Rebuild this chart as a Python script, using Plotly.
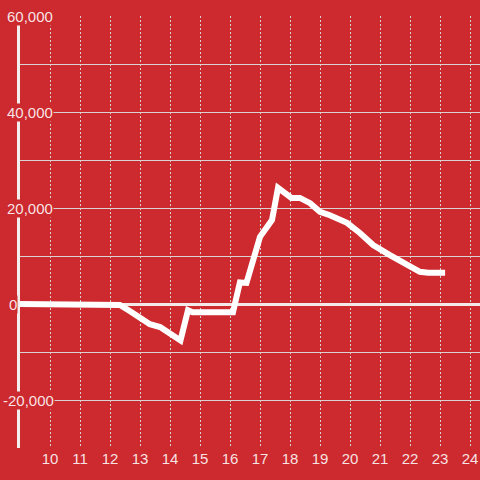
import plotly.graph_objects as go

# data (hour of day, value)
hours = [9, 12.1, 12.33, 12.67, 13.0, 13.17, 13.33, 13.67, 13.9, 14.17, 14.35,
         14.6, 14.75, 16.1, 16.33, 16.55, 16.77, 16.9, 17.0, 17.4, 17.6, 18.05,
         18.33, 18.67, 19.0, 19.33, 19.9, 20.33, 20.77, 21.33, 21.77, 22.33,
         22.6, 23.17]
values = [0, 0, -200, -1500, -2900, -3750, -4200, -4800, -5800, -6700, -7600,
          -1300, -1700, -1700, 4500, 4400, 9200, 12000, 14000, 17500, 24200, 22100,
          22100, 21000, 19200, 18500, 16900, 14800, 12300, 10200, 8750, 6700,
          6500, 6500]

x_ticks = list(range(10, 25))
y_label_vals = [60000, 40000, 20000, 0, -20000]

BG = "#cc2a2f"
TXT = "rgba(255,255,255,0.88)"
GRID = "#d9d2d2"

fig = go.Figure()
fig.add_trace(go.Scatter(x=hours, y=values, mode="lines",
                         line=dict(color="white", width=6), hoverinfo="skip"))

fig.update_layout(
    width=480, height=480,
    margin=dict(l=20, r=0, t=16, b=32),
    paper_bgcolor=BG, plot_bgcolor=BG,
    showlegend=False,
    font=dict(family="Liberation Sans, Arial, sans-serif", size=15, color=TXT),
    xaxis=dict(range=[9, 24.3333], tickmode="array", tickvals=x_ticks,
               ticktext=[str(t) for t in x_ticks],
               showgrid=True, gridcolor=GRID, gridwidth=1, griddash="2px,2px",
               zeroline=False, showline=False, ticks="",
               tickfont=dict(size=15, color=TXT)),
    yaxis=dict(range=[-30000, 60000], dtick=10000, tick0=0,
               showgrid=True, gridcolor=GRID, gridwidth=1,
               zeroline=True, zerolinecolor="#f3e9e9", zerolinewidth=3,
               showline=True, linecolor="#f3eeee", linewidth=3,
               showticklabels=False, ticks=""),
)

for v in y_label_vals:
    shift = -4 if v < 0 else (2 if v == 0 else 0)
    fig.add_annotation(x=-0.0304, xref="paper", y=v, yref="y",
                       text=f"{v:,}", showarrow=False, xanchor="left",
                       yanchor="middle", bgcolor=BG, borderpad=0, xshift=shift,
                       font=dict(size=15, color=TXT))

fig.write_html("out.html", config={"displayModeBar": False},
               post_script="document.body.style.margin='0';document.body.style.overflow='hidden';")
